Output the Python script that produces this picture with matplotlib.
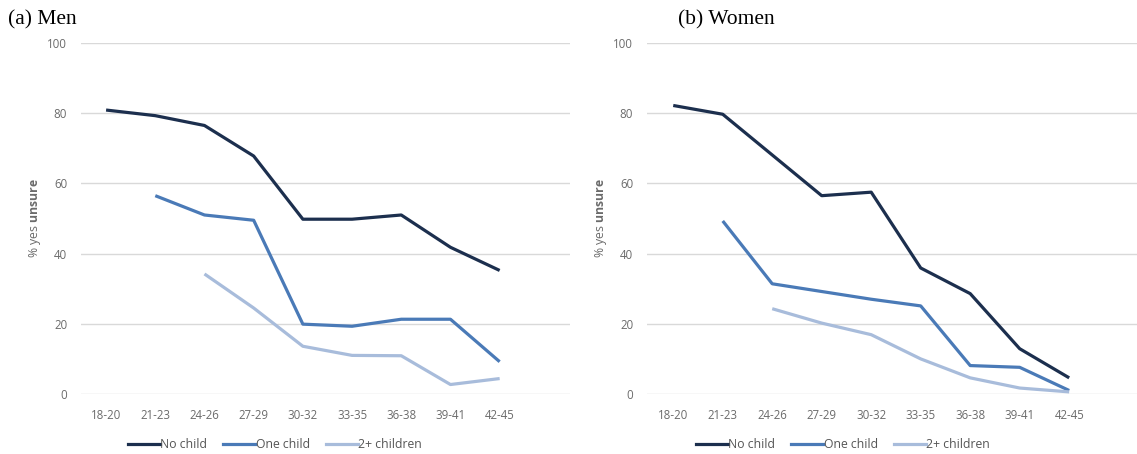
import matplotlib
matplotlib.use("Agg")
import matplotlib.pyplot as plt
from matplotlib.lines import Line2D

plt.rcParams["mathtext.fontset"] = "custom"
plt.rcParams["mathtext.bf"] = "Open Sans:bold"
plt.rcParams["mathtext.rm"] = "Open Sans"

categories = ["18-20", "21-23", "24-26", "27-29", "30-32", "33-35", "36-38", "39-41", "42-45"]
yticks = [0, 20, 40, 60, 80, 100]

men_no_child = [80.9, 79.3, 76.5, 67.8, 49.8, 49.8, 51.0, 41.8, 35.2]
men_one_child = [None, 56.5, 51.0, 49.5, 19.9, 19.3, 21.3, 21.3, 9.2]
men_two_plus = [None, None, 34.2, 24.5, 13.6, 11.0, 10.9, 2.7, 4.4]

women_no_child = [82.2, 79.7, 68.1, 56.5, 57.5, 35.9, 28.6, 12.9, 4.6]
women_one_child = [None, 49.3, 31.4, 29.2, 27.0, 25.1, 8.1, 7.6, 1.0]
women_two_plus = [None, None, 24.3, 20.2, 16.9, 10.0, 4.6, 1.7, 0.6]

series_names = ["No child", "One child", "2+ children"]
colors = ["#1c2f4e", "#4a7ab7", "#a8bcdb"]
ylabel = r"% yes $\mathbf{unsure}$"

W, H = 1137, 454
fig = plt.figure(figsize=(W / 100, H / 100), dpi=100)

def px_axes(x0, x1, y_top, y_bot):
    return [x0 / W, 1 - y_bot / H, (x1 - x0) / W, (y_bot - y_top) / H]

panels = [
    ("(a) Men", px_axes(81, 570, 43, 394), (men_no_child, men_one_child, men_two_plus),
     (8, 20), (-0.51, 9.43), 275),
    ("(b) Women", px_axes(647, 1137, 43, 394), (women_no_child, women_one_child, women_two_plus),
     (678, 20), (-0.53, 9.37), 843),
]

tick_color = "#6b6b6b"
for title, rect, data, tpos, xlim, legx in panels:
    ax = fig.add_axes(rect)
    idx = list(range(len(categories)))
    for vals, c in zip(data, colors):
        xs = [i for i, v in zip(idx, vals) if v is not None]
        ys = [v for v in vals if v is not None]
        ax.plot(xs, ys, color=c, lw=2.3, solid_capstyle="butt", solid_joinstyle="round")
    ax.set_ylim(0, 100)
    ax.set_xlim(*xlim)
    ax.set_yticks(yticks)
    ax.set_yticklabels([str(t) for t in yticks], fontsize=8.3, color=tick_color, family="Open Sans")
    ax.set_xticks(idx)
    ax.set_xticklabels(categories, fontsize=8.3, color=tick_color, family="Open Sans")
    ax.tick_params(axis="both", length=0)
    ax.tick_params(axis="x", pad=11)
    ax.tick_params(axis="y", pad=10)
    ax.grid(axis="y", color="#d9d9d9", lw=1)
    ax.set_axisbelow(True)
    for s in ax.spines.values():
        s.set_visible(False)
    ax.set_ylabel(ylabel, fontsize=8.8, color=tick_color, family="Open Sans", labelpad=3)
    fig.text(tpos[0] / W, 1 - tpos[1] / H, title, fontsize=15.5, family="Liberation Serif",
             va="center", ha="left", color="black")
    handles = [Line2D([0], [0], color=c, lw=2.3) for c in colors]
    fig.legend(handles, series_names, loc="center", bbox_to_anchor=(legx / W, 1 - 445 / H),
               ncol=3, frameon=False, handlelength=2.6, handletextpad=0.05,
               columnspacing=1.3, prop={"family": "Open Sans", "size": 8.8},
               labelcolor="#555555")

fig.savefig("out.png", dpi=100, facecolor="white")
